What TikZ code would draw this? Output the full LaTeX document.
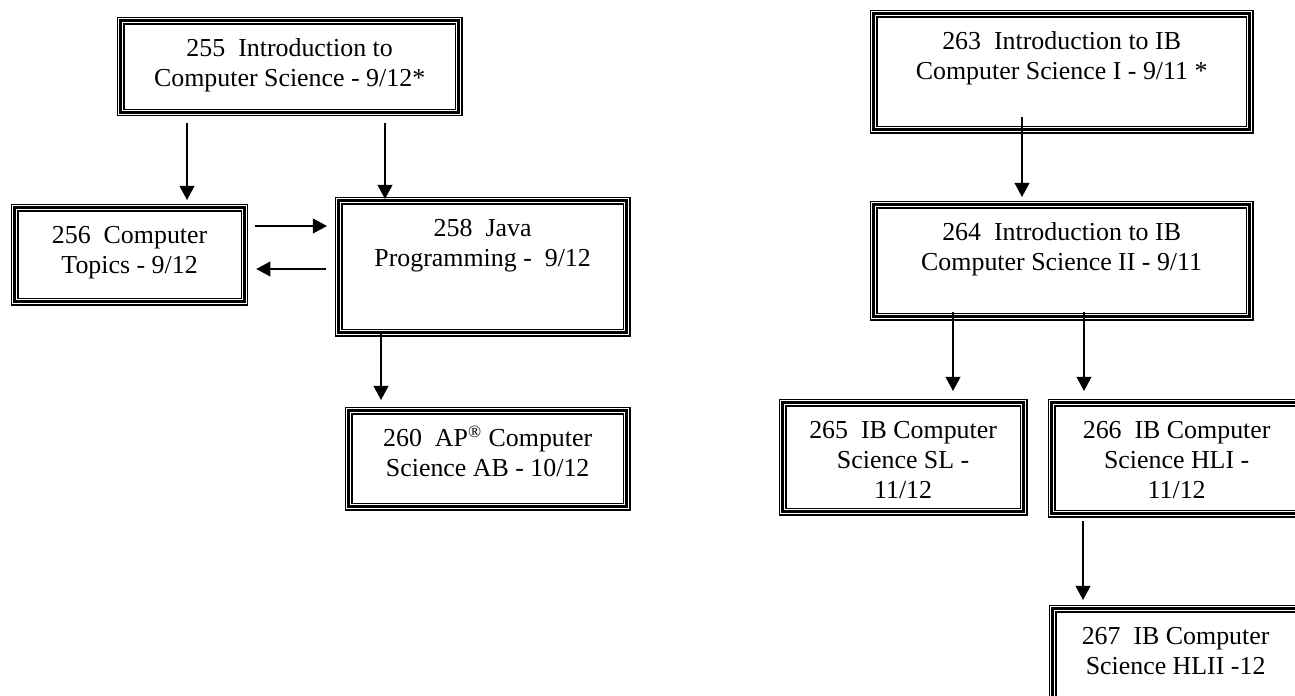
\documentclass[tikz,border=0pt]{standalone}
\usepackage{fontspec}
\setmainfont{Liberation Serif}
\usetikzlibrary{arrows.meta,calc}

\tikzset{
  course/.style={draw, line width=1.5pt,
    preaction={draw, line width=0.55pt, double, double distance=2.5pt},
    anchor=north west, align=center, inner sep=0pt,
    text height=30.6pt, font=\fontsize{12}{13.9}\selectfont},
  prereq/.style={-{Triangle[length=6.5pt,width=6.8pt]}, line width=0.75pt}
}

\begin{document}
\begin{tikzpicture}[x=0.4635pt, y=-0.4635pt]
            \useasboundingbox (0,0) rectangle (1295,695);
            \clip (0,0) rectangle (1295,695);

            % Define nodes
            \node[course, minimum width=156.7pt, text depth=12.04pt] (n255) at (119,19)
                {255~~Introduction to\\Computer Science - 9/12*};
            \node[course, minimum width=106.6pt, text depth=12.97pt] (n256) at (13,206)
                {256~~Computer\\Topics - 9/12};
            \node[course, minimum width=133.5pt, text depth=30.58pt] (n258) at (337,199)
                {258~~Java\\Programming -~~9/12};
            \node[course, minimum width=128.9pt, text depth=13.9pt]  (n260) at (347,409)
                {260~~AP\textsuperscript{\textregistered} Computer\\Science AB - 10/12};

            \node[course, minimum width=174.3pt, text depth=23.17pt] (n263) at (872,12)
                {263~~Introduction to IB\\Computer Science I - 9/11 *};
            \node[course, minimum width=174.3pt, text depth=21.31pt] (n264) at (872,203)
                {264~~Introduction to IB\\Computer Science II - 9/11};
            \node[course, minimum width=111.7pt, text height=44.5pt, text depth=6.02pt] (n265) at (781,401)
                {265~~IB Computer\\Science SL -\\11/12};
            \node[course, minimum width=115.9pt, text height=44.5pt, text depth=6.95pt] (n266) at (1050,401)
                {266~~IB Computer\\Science HLI -\\11/12};
            \node[course, minimum width=114.0pt, text depth=14.82pt] (n267) at (1051,607)
                {267~~IB Computer\\Science HLII -12};

            % Connect the nodes
            \draw[prereq] ($(n255.south west)+(68,9)$)   -- ($(n256.north west)+(174,-6)$);
            \draw[prereq] ($(n255.south west)+(266,9)$)  -- ($(n258.north west)+(48,0)$);
            \draw[prereq] ($(n256.north east)+(9,20)$)   -- ($(n258.north west)+(-10,27)$);
            \draw[prereq] ($(n258.north west)+(-11,70)$) -- ($(n256.north east)+(10,63)$);
            \draw[prereq] ($(n258.south west)+(44,0)$)   -- ($(n260.north west)+(34,-9)$);

            \draw[prereq] ($(n263.south west)+(150,-14)$) -- ($(n264.north west)+(150,-6)$);
            \draw[prereq] ($(n264.south west)+(81,-6)$)   -- ($(n265.north west)+(172,-10)$);
            \draw[prereq] ($(n264.south west)+(212,-6)$)  -- ($(n266.north west)+(34,-10)$);
            \draw[prereq] ($(n266.south west)+(33,6)$)    -- ($(n267.north west)+(32,-7)$);
\end{tikzpicture}
\end{document}
